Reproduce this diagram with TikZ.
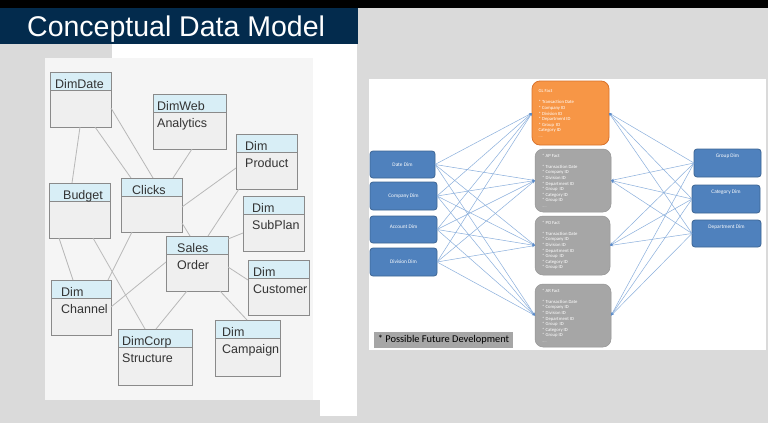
\documentclass[tikz,border=0pt]{standalone}
\usepackage{fontspec}
\setmainfont{Liberation Sans}
\newfontfamily\calib{Carlito}
\usetikzlibrary{arrows.meta}
\definecolor{bggray}{HTML}{DADADA}
\definecolor{navy}{HTML}{032B4D}
\definecolor{panelbg}{HTML}{F5F5F5}
\definecolor{hdrblue}{HTML}{D8EEF6}
\definecolor{bodygray}{HTML}{EFEFEF}
\definecolor{framegray}{HTML}{8A8A8A}
\definecolor{lnkgray}{HTML}{B8B8B8}
\definecolor{dimblue}{HTML}{4F81BD}
\definecolor{dimborder}{HTML}{3D6594}
\definecolor{glorange}{HTML}{F79646}
\definecolor{glborder}{HTML}{D9722B}
\definecolor{factgray}{HTML}{A6A6A6}
\definecolor{flowblue}{HTML}{8AAFDC}
\definecolor{tipblue}{HTML}{5B8BC9}
\definecolor{txtdark}{HTML}{333333}
\tikzset{
  entframe/.style={draw=framegray, line width=0.9pt, fill=bodygray, inner sep=0, outer sep=0},
  enthead/.style={fill=hdrblue},
  entline/.style={draw=framegray, line width=0.9pt},
  enttext/.style={anchor=base west, inner sep=0, text=txtdark, font=\fontsize{12.5}{14}\selectfont},
  lnk/.style={draw=lnkgray, line width=0.8pt},
  dimbox/.style={draw=dimborder, line width=0.8pt, fill=dimblue, rounded corners=3pt, inner sep=0, outer sep=0},
  dimtxt/.style={text=white, inner sep=0, font=\calib\fontsize{5.3}{6}\selectfont},
  factbox/.style={rounded corners=8pt, inner sep=0, outer sep=0},
  glbox/.style={factbox, fill=glorange, draw=glborder, line width=0.8pt},
  grbox/.style={factbox, fill=factgray, draw=factgray!90!black, line width=0.5pt},
  facttxt/.style={anchor=north west, inner sep=0, align=left, text=white, font=\calib\fontsize{4.7}{5.6}\selectfont},
  flow/.style={draw=flowblue, line width=0.5pt, -{Stealth[length=3pt,width=2.4pt,color=tipblue]}},
}
\newcommand\entbox[8]{%
  \node[entframe, minimum width=#4pt, minimum height=#5pt, anchor=north west] (#1) at (#2,#3) {};
  \fill[enthead] (#2,#3) rectangle (#2+#4,#3+18);
  \draw[entline] (#2,#3+18) -- (#2+#4,#3+18);
  \draw[entline] (#1.north west) rectangle (#1.south east);
  \node[enttext] at (#6,#3+16) {#7};
  \node[enttext] at (#6,#3+33) {#8};
}
\begin{document}
\begin{tikzpicture}[x=1pt,y=-1pt]
\useasboundingbox (0,0) rectangle (768,423);
% backgrounds
\fill[bggray] (0,0) rectangle (768,423);
\fill[black] (0,0) rectangle (768,7.5);
\fill[navy] (0,7.5) rectangle (358,44);
\node[anchor=base west, inner sep=0, text=white, font=\fontsize{28.5}{30}\selectfont] (title) at (27,36) {Conceptual Data Model};
\fill[white] (112,44) rectangle (357,400);
\fill[white] (320,400) rectangle (357,416);
\fill[panelbg] (45,58) rectangle (313,400);
\fill[white] (369,79) rectangle (766,350);

% ===== left: conceptual entities =====
\entbox{ddate}{50}{72}{61}{55}{55}{DimDate}{}
\entbox{dweb}{153}{94}{73}{55}{157}{DimWeb}{Analytics}
\entbox{dprod}{236}{134}{61}{55}{245}{Dim}{Product}
\entbox{budget}{49}{183}{61}{55}{63}{Budget}{}
\entbox{clicks}{121}{178}{61}{54}{132}{Clicks}{}
\entbox{dsub}{243}{196}{61}{55}{252}{Dim}{SubPlan}
\entbox{sales}{166}{236}{62}{55}{177}{Sales}{Order}
\entbox{dcust}{248}{260}{61}{55}{253}{Dim}{Customer}
\entbox{dchan}{51}{280}{60}{55}{61}{Dim}{Channel}
\entbox{dcorp}{118}{329}{74}{56}{122}{DimCorp}{Structure}
\entbox{dcamp}{215}{320}{65}{56}{222}{Dim}{Campaign}

\draw[lnk] ([xshift=30pt]ddate.south west) -- ([xshift=23pt]budget.north west);
\draw[lnk] ([yshift=-36pt]ddate.north east) -- ([xshift=32pt]clicks.north west);
\draw[lnk] ([xshift=45pt]ddate.south west) -- ([xshift=10pt]clicks.north west);
\draw[lnk] ([xshift=39pt]dweb.south west) -- ([xshift=52pt]clicks.north west);
\draw[lnk] ([yshift=-34pt]dprod.north west) -- ([yshift=-29pt]clicks.north east);
\draw[lnk] ([xshift=3pt]dprod.south west) -- ([xshift=42pt]sales.north west);
\draw[lnk] ([yshift=-45pt]clicks.north east) -- ([xshift=24pt]sales.north west);
\draw[lnk] ([yshift=-37pt]dsub.north west) -- ([yshift=-3pt]sales.north east);
\draw[lnk] ([yshift=-31pt]sales.north east) -- ([yshift=-20pt]dcust.north west);
\draw[lnk] ([xshift=54pt]sales.south west) -- ([xshift=32pt]dcamp.north west);
\draw[lnk] ([xshift=21pt]sales.south west) -- ([xshift=38pt]dcorp.north west);
\draw[lnk] ([yshift=-26pt]sales.north west) -- ([yshift=-27pt]dchan.north east);
\draw[lnk] ([xshift=11pt]clicks.south west) -- ([xshift=57pt]dchan.north west);
\draw[lnk] ([xshift=44pt]budget.south west) -- ([xshift=27pt]dcorp.north west);
\draw[lnk] ([xshift=10pt]budget.south west) -- ([xshift=22pt]dchan.north west);

% ===== right: data model =====
\node[dimbox, minimum width=65pt, minimum height=27pt] (rdate) at (402.5,164.5) {};
\node[dimtxt] at (rdate.center) {Date Dim};
\node[dimbox, minimum width=67pt, minimum height=28pt] (rcomp) at (403.5,196) {};
\node[dimtxt] at (rcomp.center) {Company Dim};
\node[dimbox, minimum width=67pt, minimum height=27pt] (racct) at (403.5,229.5) {};
\node[dimtxt] at ([yshift=3pt]racct.center) {Account Dim};
\node[dimbox, minimum width=67pt, minimum height=28pt] (rdiv) at (403.5,262) {};
\node[dimtxt] at (rdiv.center) {Division Dim};

\node[dimbox, minimum width=67pt, minimum height=28pt] (rgrp) at (727.5,163) {};
\node[dimtxt] at ([yshift=7pt]rgrp.center) {Group Dim};
\node[dimbox, minimum width=68pt, minimum height=28pt] (rcat) at (726,199) {};
\node[dimtxt] at ([yshift=7pt]rcat.center) {Category Dim};
\node[dimbox, minimum width=69pt, minimum height=27pt] (rdept) at (726.5,233.5) {};
\node[dimtxt] at ([yshift=6.5pt]rdept.center) {Department Dim};

\node[glbox, minimum width=77pt, minimum height=64pt] (gl) at (570.5,113) {};
\node[facttxt] at (538.5,89.5) {GL Fact\\[5.6pt]* Transaction Date\\* Company ID\\* Division ID\\* Department ID\\* Group\ \ ID\\Category ID\\{\fontsize{3}{5.6}\selectfont ......}};
\node[grbox, minimum width=76pt, minimum height=63pt] (ap) at (573,180.5) {};
\node[facttxt] at (542,153.5) {* AP Fact\\[5.6pt]* Transaction Date\\* Company ID\\* Division ID\\* Department ID\\* Group\ \ ID\\* Category ID\\* Group ID\\{\fontsize{3}{5.6}\selectfont ......}};
\node[grbox, minimum width=75pt, minimum height=59pt] (po) at (572.5,245.5) {};
\node[facttxt] at (542,220.5) {* PO Fact\\[5.6pt]* Transaction Date\\* Company ID\\* Division ID\\* Department ID\\* Group\ \ ID\\* Category ID\\* Group ID};
\node[grbox, minimum width=76pt, minimum height=63pt] (ar) at (573,315.5) {};
\node[facttxt] at (542,288.5) {* AR Fact\\[5.6pt]* Transaction Date\\* Company ID\\* Division ID\\* Department ID\\* Group\ \ ID\\* Category ID\\* Group ID\\{\fontsize{3}{5.6}\selectfont ......}};

\foreach \a in {rdate,rcomp,racct,rdiv}
  \foreach \b in {gl,ap,po,ar}
    \draw[flow] (\a.east) -- (\b.west);
\foreach \a in {rgrp,rcat,rdept}
  \foreach \b in {gl,ap,po,ar}
    \draw[flow] (\a.west) -- (\b.east);

\node[fill=factgray, minimum width=139pt, minimum height=16pt, inner sep=0, text=black, font=\calib\fontsize{10.4}{12}\selectfont] (future) at (443.5,340) {* Possible Future Development};
\end{tikzpicture}
\end{document}
